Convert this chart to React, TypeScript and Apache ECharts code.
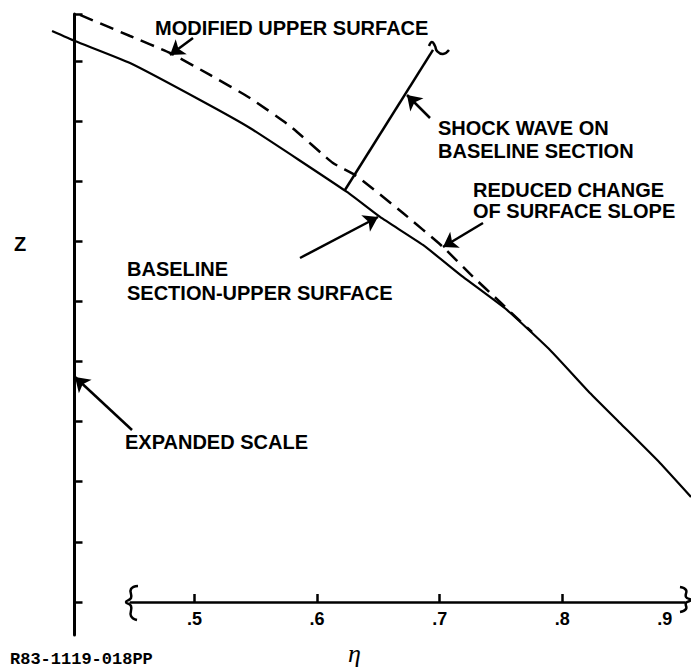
import React, { useEffect, useRef } from 'react';
import * as echarts from 'echarts';

// ---- data (eta, Z in arbitrary expanded-scale units) ----
const etaTickLabels = [0.5, 0.6, 0.7, 0.8, 0.9];
const etaTicks = [0.5, 0.6, 0.7, 0.8];
const zTicks = [0, 1, 2, 3, 4, 5, 6, 7, 8, 9, 9.78];

const baselineEta = [0.3839, 0.4026, 0.4475, 0.5046, 0.5453, 0.6244, 0.6514, 0.6864, 0.7191, 0.7549, 0.79, 0.8226, 0.8471, 0.8797, 0.905];
const baselineZ = [9.498, 9.331, 8.965, 8.35, 7.884, 6.82, 6.404, 5.938, 5.406, 4.857, 4.192, 3.476, 2.977, 2.312, 1.747];

const modifiedEta = [0.4067, 0.4475, 0.4801, 0.5127, 0.5453, 0.578, 0.613, 0.631, 0.6701, 0.7027, 0.7248, 0.7492, 0.7655, 0.7753];
const modifiedZ = [9.764, 9.414, 9.132, 8.766, 8.383, 7.917, 7.302, 7.102, 6.47, 5.905, 5.456, 4.99, 4.674, 4.491];

const shockEta = [0.6228, 0.6946];
const shockZ = [6.853, 9.182];

// ---- layout ----
const W = 691;
const H = 669;
const X_MIN = 0.37;
const X_MAX = 0.905;
const LEFT = 35;
const AX_MIN = 0.448;
const AX_MAX = 0.9;
const K = (W - LEFT) / (X_MAX - X_MIN);
const G1_LEFT = LEFT + (AX_MIN - X_MIN) * K;
const G1_RIGHT = W - (LEFT + (AX_MAX - X_MIN) * K);
const Y_AXIS_X = 74.5;

const FONT = '"Liberation Sans", Arial, sans-serif';

const arrows: [number, number, number, number][] = [
  [193, 38, 170, 55],
  [430, 118, 407, 95],
  [483, 223, 443, 247],
  [300, 258, 378, 217],
  [132, 430, 75, 377],
];

const labels: [string, number, number][] = [
  ['MODIFIED UPPER SURFACE', 155, 28],
  ['SHOCK WAVE ON', 438, 128],
  ['BASELINE SECTION', 438, 151],
  ['REDUCED CHANGE', 473, 190],
  ['OF SURFACE SLOPE', 473, 211],
  ['BASELINE', 127, 269],
  ['SECTION-UPPER SURFACE', 127, 293],
  ['EXPANDED SCALE', 125, 442],
  ['Z', 14, 244],
];

function zip(a: number[], b: number[]) {
  return a.map((v, i) => [v, b[i]]);
}

export default function App() {
  const ref = useRef<HTMLDivElement>(null);
  useEffect(() => {
    const chart = echarts.init(ref.current!, null, { renderer: 'svg' });
    const textEls = labels.map(([t, x, y]) => ({
      type: 'text',
      silent: true,
      style: {
        text: t, x, y, fill: '#000',
        font: `bold 20px ${FONT}`,
        textAlign: 'left', textVerticalAlign: 'middle',
        align: 'left', verticalAlign: 'middle',
      },
    }));
    const line = (pts: number[][]) => ({
      type: 'polyline',
      silent: true,
      shape: { points: pts, smooth: 0.5 },
      style: { stroke: '#000', lineWidth: 2.5, fill: 'none' },
    });
    const option: any = {
      animation: false,
      backgroundColor: '#fff',
      grid: [
        { left: LEFT, right: 0, top: 14, bottom: 34 },
        { left: G1_LEFT, right: G1_RIGHT, top: 14, bottom: 67 },
      ],
      xAxis: [
        { type: 'value', gridIndex: 0, min: X_MIN, max: X_MAX, show: false },
        {
          type: 'value', gridIndex: 1, min: AX_MIN, max: AX_MAX,
          axisLine: { show: true, onZero: false, lineStyle: { color: '#000', width: 2.5 } },
          axisTick: { show: true, inside: true, length: 8, customValues: etaTicks, lineStyle: { color: '#000', width: 2.5 } },
          axisLabel: {
            show: true, customValues: etaTickLabels, margin: 8, color: '#000',
            fontSize: 18, fontWeight: 'bold', fontFamily: FONT,
            formatter: (v: number) => {
              const s = '.' + Math.round(v * 10);
              return Math.abs(v - 0.9) < 1e-6 ? '{r|' + s + '}' : s;
            },
            rich: { r: { fontSize: 18, fontWeight: 'bold', fontFamily: FONT, color: '#000', padding: [0, 40, 0, 0] } },
          },
          splitLine: { show: false },
        },
      ],
      yAxis: [
        {
          type: 'value', gridIndex: 0, min: -0.55, max: 9.78, offset: -(Y_AXIS_X - LEFT),
          axisLine: { show: true, onZero: false, lineStyle: { color: '#000', width: 3 } },
          axisTick: { show: true, inside: true, length: 8, customValues: zTicks, lineStyle: { color: '#000', width: 2.5 } },
          axisLabel: { show: false },
          splitLine: { show: false },
        },
        { type: 'value', gridIndex: 1, min: 0, max: 1, show: false },
      ],
      series: [
        {
          type: 'line', xAxisIndex: 0, yAxisIndex: 0, data: zip(baselineEta, baselineZ),
          showSymbol: false, smooth: 0.15, silent: true,
          lineStyle: { color: '#000', width: 2.2 },
          markLine: {
            silent: true, symbol: ['none', 'arrow'], symbolSize: 14,
            label: { show: false },
            lineStyle: { color: '#000', width: 2.5, type: 'solid' },
            emphasis: { disabled: true },
            data: arrows.map(([x1, y1, x2, y2]) => [{ x: x1, y: y1 }, { x: x2, y: y2 }]),
          },
        },
        {
          type: 'line', xAxisIndex: 0, yAxisIndex: 0, data: zip(modifiedEta, modifiedZ),
          showSymbol: false, smooth: 0.15, silent: true,
          lineStyle: { color: '#000', width: 2.5, type: [14, 8] },
        },
        {
          type: 'line', xAxisIndex: 0, yAxisIndex: 0, data: zip(shockEta, shockZ),
          showSymbol: false, silent: true,
          lineStyle: { color: '#000', width: 2.5 },
        },
      ],
      graphic: [
        ...textEls,
        {
          type: 'text', silent: true,
          style: { text: 'η', x: 348, y: 653, fill: '#000', font: `italic 26px "Liberation Serif", "DejaVu Serif", serif`, textVerticalAlign: 'middle', verticalAlign: 'middle' },
        },
        {
          type: 'text', silent: true,
          style: { text: 'R83-1119-018PP', x: 10, y: 659, fill: '#000', font: `bold 17px "Liberation Mono", monospace`, textVerticalAlign: 'middle', verticalAlign: 'middle' },
        },
        line([[138, 586], [131, 589], [131, 598], [126, 602], [131, 606], [131, 616], [137, 620]]),
        line([[680, 587], [686, 590], [686, 597], [691, 600], [686, 603], [686, 609], [680, 612]]),
        line([[429, 46], [432, 42], [435, 46], [437, 51], [443, 54], [449, 50]]),
      ],
    };
    chart.setOption(option);
    return () => chart.dispose();
  }, []);
  return <div ref={ref} style={{ position: 'absolute', left: 0, top: 0, width: W, height: H, background: '#fff' }} />;
}
